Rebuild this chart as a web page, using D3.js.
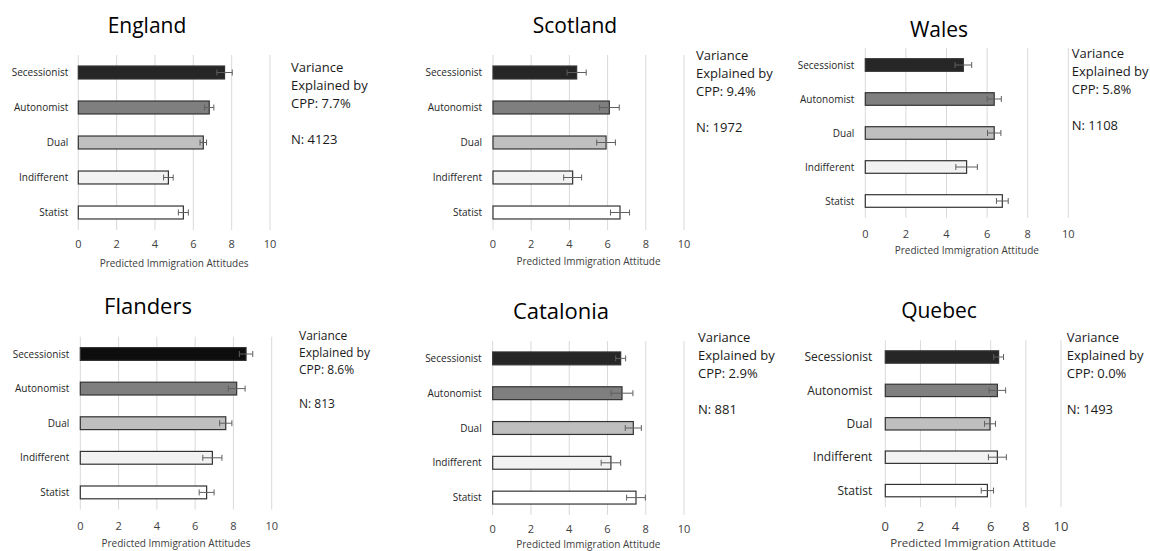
<!DOCTYPE html>
<html>
<head>
<meta charset="utf-8">
<script src="https://cdn.jsdelivr.net/npm/d3@7"></script>
<style>
  html, body { margin: 0; padding: 0; background: #fff; }
  svg { display: block; font-family: "Open Sans", sans-serif; }
</style>
</head>
<body>
<svg id="chart" width="1150" height="551"></svg>
<script>
// Identity categories (rows of every panel)
const categories = ["Secessionist", "Autonomist", "Dual", "Indifferent", "Statist"];
const regions = ["England", "Scotland", "Wales", "Flanders", "Catalonia", "Quebec"];
const xTicks = [0, 2, 4, 6, 8, 10];

// Predicted immigration attitudes (0–10) and error half-widths
const englandMeans   = [7.63, 6.83, 6.52, 4.70, 5.48];
const englandErrors  = [0.40, 0.24, 0.17, 0.25, 0.26];
const scotlandMeans  = [4.38, 6.09, 5.92, 4.17, 6.65];
const scotlandErrors = [0.50, 0.52, 0.49, 0.47, 0.50];
const walesMeans     = [4.83, 6.35, 6.35, 4.99, 6.75];
const walesErrors    = [0.41, 0.35, 0.33, 0.53, 0.29];
const flandersMeans  = [8.66, 8.17, 7.60, 6.90, 6.60];
const flandersErrors = [0.35, 0.44, 0.32, 0.50, 0.39];
const cataloniaMeans = [6.69, 6.76, 7.35, 6.18, 7.49];
const cataloniaErrors= [0.26, 0.57, 0.42, 0.51, 0.49];
const quebecMeans    = [6.45, 6.38, 5.96, 6.38, 5.81];
const quebecErrors   = [0.28, 0.47, 0.31, 0.51, 0.35];

const varianceExplained = ["7.7%", "9.4%", "5.8%", "8.6%", "2.9%", "0.0%"];
const sampleSizes = [4123, 1972, 1108, 813, 881, 1493];
const axisTitles = [
  "Predicted Immigration Attitudes", "Predicted Immigration Attitude",
  "Predicted Immigration Attitude", "Predicted Immigration Attitudes",
  "Predicted Immigration Attitude", "Predicted Immigration Attitude"
];

const meansByRegion = [englandMeans, scotlandMeans, walesMeans, flandersMeans, cataloniaMeans, quebecMeans];
const errorsByRegion = [englandErrors, scotlandErrors, walesErrors, flandersErrors, cataloniaErrors, quebecErrors];

// Panel placement and typography
const layouts = [
  { x0: 78.3,  x1: 270,    y0: 55,    y1: 230,   title: [147, 33, 21],  tick: [248, 11], axisT: [266.5, 10], labelGap: 10, labelSize: 10, note: [291, 71.5, 18, 13] },
  { x0: 493,   x1: 684,    y0: 55,    y1: 230,   title: [575, 33, 21],  tick: [247.5, 11], axisT: [265, 10], labelGap: 11, labelSize: 10, note: [696, 59.5, 18, 13] },
  { x0: 865.3, x1: 1068.3, y0: 48,    y1: 218,   title: [939, 37, 21],  tick: [237.5, 11], axisT: [254, 10], labelGap: 11, labelSize: 10, note: [1071.7, 57.5, 18.2, 13] },
  { x0: 80.3,  x1: 271.7,  y0: 336.7, y1: 509.7, title: [148, 314, 22], tick: [530, 11], axisT: [546.5, 10], labelGap: 11, labelSize: 10, note: [299, 340, 16.9, 12] },
  { x0: 492.7, x1: 684,    y0: 341,   y1: 515,   title: [561, 319, 22], tick: [533, 11], axisT: [547.5, 10], labelGap: 11, labelSize: 10, note: [698, 341.5, 18.2, 13] },
  { x0: 885.3, x1: 1061,   y0: 340.3, y1: 507.3, title: [939, 318, 21], tick: [531, 13], axisT: [547, 11.5], labelGap: 13, labelSize: 12, note: [1066.7, 341.5, 18.2, 13] }
];

const fills = ["#262626", "#7f7f7f", "#bfbfbf", "#f2f2f2", "#ffffff"];
const svg = d3.select("#chart");

regions.forEach((region, i) => {
  const L = layouts[i];
  const g = svg.append("g");
  const x = d3.scaleLinear().domain([0, 10]).range([L.x0, L.x1]);
  const y = d3.scaleBand().domain(categories).range([L.y0, L.y1]).paddingInner(0.63).paddingOuter(0.315);

  // vertical gridlines
  g.selectAll("line.grid").data(xTicks).join("line")
    .attr("x1", d => x(d)).attr("x2", d => x(d))
    .attr("y1", L.y0).attr("y2", L.y1)
    .attr("stroke", "#d9d9d9").attr("stroke-width", 1);

  const rows = categories.map((c, k) => ({ c, k, v: meansByRegion[i][k], e: errorsByRegion[i][k] }));

  // bars
  g.selectAll("rect.bar").data(rows).join("rect")
    .attr("x", x(0))
    .attr("y", d => y(d.c))
    .attr("width", d => x(d.v) - x(0))
    .attr("height", y.bandwidth())
    .attr("fill", d => (region === "Flanders" && d.k === 0) ? "#0d0d0d" : fills[d.k])
    .attr("stroke", "#333333").attr("stroke-width", 1.2);

  // error bars
  const eb = g.selectAll("g.err").data(rows).join("g")
    .attr("stroke", "#5f5f5f").attr("stroke-width", 1);
  eb.append("line")
    .attr("x1", d => x(d.v - d.e)).attr("x2", d => x(d.v + d.e))
    .attr("y1", d => y(d.c) + y.bandwidth() / 2).attr("y2", d => y(d.c) + y.bandwidth() / 2);
  eb.append("line")
    .attr("x1", d => x(d.v - d.e)).attr("x2", d => x(d.v - d.e))
    .attr("y1", d => y(d.c) + y.bandwidth() / 2 - 3).attr("y2", d => y(d.c) + y.bandwidth() / 2 + 3);
  eb.append("line")
    .attr("x1", d => x(d.v + d.e)).attr("x2", d => x(d.v + d.e))
    .attr("y1", d => y(d.c) + y.bandwidth() / 2 - 3).attr("y2", d => y(d.c) + y.bandwidth() / 2 + 3);

  // category labels
  g.selectAll("text.cat").data(categories).join("text")
    .attr("x", L.x0 - L.labelGap)
    .attr("y", d => y(d) + y.bandwidth() / 2)
    .attr("dy", "0.35em")
    .attr("text-anchor", "end")
    .attr("font-size", L.labelSize)
    .attr("fill", "#262626")
    .text(d => d);

  // x tick labels
  g.selectAll("text.tick").data(xTicks).join("text")
    .attr("x", d => x(d)).attr("y", L.tick[0])
    .attr("text-anchor", "middle")
    .attr("font-size", L.tick[1])
    .attr("fill", "#404040")
    .text(d => d);

  // axis title
  g.append("text")
    .attr("x", (L.x0 + L.x1) / 2).attr("y", L.axisT[0])
    .attr("text-anchor", "middle")
    .attr("font-size", L.axisT[1])
    .attr("fill", "#404040")
    .text(axisTitles[i]);

  // panel title
  g.append("text")
    .attr("x", L.title[0]).attr("y", L.title[1])
    .attr("text-anchor", "middle")
    .attr("font-size", L.title[2])
    .attr("fill", "#000")
    .text(region);

  // side note
  const noteLines = ["Variance", "Explained by", "CPP: " + varianceExplained[i], "", "N: " + sampleSizes[i]];
  g.selectAll("text.note").data(noteLines).join("text")
    .attr("x", L.note[0])
    .attr("y", (d, k) => L.note[1] + k * L.note[2])
    .attr("font-size", L.note[3])
    .attr("fill", "#1a1a1a")
    .text(d => d);
});
</script>
</body>
</html>
